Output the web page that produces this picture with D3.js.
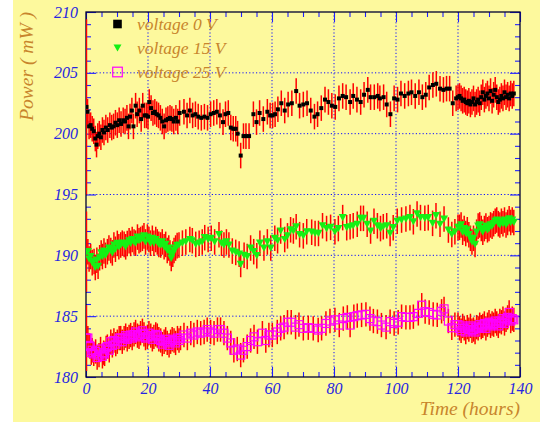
<!DOCTYPE html>
<html>
<head>
<meta charset="utf-8">
<script src="https://cdn.jsdelivr.net/npm/d3@7"></script>
<style>
  body { margin: 0; background: #fff; }
  svg { display: block; }
</style>
</head>
<body>
<svg id="chart" width="540" height="422"></svg>
<script>
// ---- tick labels ----
const hourTicks = [0, 20, 40, 60, 80, 100, 120, 140];
const powerTicks = [180, 185, 190, 195, 200, 205, 210];

// ---- series: [time (hours), power (mW)] ----
const seriesNames = ["voltage 0 V", "voltage 15 V", "voltage 25 V"];

const power0V = [
  [0.15,202.2],[0.5,201.8],[1.0,200.6],[1.5,200.7],[2.0,200.4],[2.5,200.2],[3.0,199.6],[3.4,199.1],[3.8,199.8],
  [4.3,200.0],[4.8,199.7],[5.3,200.3],[5.8,200.1],[6.4,200.5],[7.0,200.3],[7.7,200.7],[8.3,200.5],[8.9,200.6],
  [9.5,200.9],[10.1,200.7],[10.7,201.1],[11.3,200.8],[12.0,201.1],[12.6,201.0],[13.2,201.3],[13.7,200.6],
  [14.2,201.4],[14.8,201.9],[15.3,200.6],[16.0,202.3],[16.5,201.6],[17.2,201.9],[17.8,201.2],[18.3,202.3],
  [18.9,201.5],[19.5,201.5],[20.0,201.4],[20.4,202.6],[21.0,202.1],[21.6,201.7],[22.2,201.8],[22.8,201.6],
  [23.4,201.5],[24.0,201.3],[24.6,201.0],[25.2,200.6],[25.8,201.1],[26.4,201.2],[27.1,201.3],[27.7,201.2],
  [28.3,201.0],[29.0,201.3],[29.6,201.0],[30.2,201.7],
  [31.6,201.8],[32.6,201.5],[33.5,201.9],[34.4,201.5],[35.3,201.6],[36.2,201.4],[37.2,201.3],[38.2,201.4],
  [39.2,201.3],[40.2,201.6],[41.2,201.7],[42.2,201.8],[43.2,201.5],[44.2,200.95],[45.0,201.6],[45.9,201.7],
  [46.7,200.5],[47.5,200.4],[48.3,200.4],[48.9,200.0],[49.9,198.2],[50.8,199.8],[51.6,199.8],[52.6,199.8],
  [54.0,201.6],[55.0,200.95],[56.0,201.7],[57.2,201.2],[58.5,201.8],[59.4,201.5],[60.2,201.5],[61.0,201.6],
  [61.9,202.0],[63.0,202.5],[64.1,201.9],[65.2,202.4],[66.4,202.5],[67.8,203.5],[68.9,202.3],[70.1,202.4],
  [71.3,202.5],[72.5,201.9],[73.7,201.4],[74.7,201.6],[75.9,202.1],[77.1,202.8],[78.2,202.6],[79.3,202.3],
  [80.4,202.2],[81.6,202.9],[82.8,203.1],[83.9,203.0],[85.2,202.6],[86.2,203.1],[87.4,202.8],[88.6,202.6],
  [89.7,203.2],[90.9,203.6],[91.8,203.0],[93.0,203.0],[94.1,203.1],[94.8,202.9],[96.0,203.0],[97.0,202.4],
  [98.2,201.6],[99.4,202.9],[100.5,202.8],[101.6,203.3],[102.8,203.1],[104.0,203.3],[105.0,203.4],[106.2,203.1],
  [107.4,203.4],[108.5,203.0],[109.6,203.2],[110.7,203.8],[111.9,204.0],[113.0,204.1],[114.2,203.7],[115.3,203.6],
  [116.3,203.7],[117.3,203.7],[118.3,202.5],[119.4,202.9],
  [120.0,203.0],[120.5,203.1],[121.0,202.9],[121.5,202.7],[122.0,202.8],[122.5,202.6],[123.0,202.5],[123.5,202.7],
  [124.0,202.4],[124.5,202.6],[125.0,202.9],[125.5,202.4],[126.0,202.6],[126.5,202.8],[127.0,202.5],[127.5,203.0],
  [128.0,203.4],[128.5,202.8],[129.0,203.1],[129.5,203.3],[130.0,202.9],[130.5,203.5],[131.0,202.7],[131.5,203.2],
  [132.0,203.6],[132.5,203.0],[133.0,202.6],[133.5,202.8],[134.0,203.1],[134.5,202.9],[135.0,203.4],[135.5,203.0],
  [136.0,203.2],[136.5,202.9],[137.0,203.3],[137.5,203.1],[138.0,203.3]
];

const power15V = [
  [0.15,190.3],[0.6,190.3],[1.0,189.7],[1.5,189.9],[2.0,189.4],[2.6,189.5],[3.0,189.0],[3.5,189.6],[3.9,189.1],
  [4.4,189.8],[4.9,190.2],[5.3,189.9],[5.8,190.35],[6.3,190.0],[6.9,190.3],[7.4,190.6],[8.0,190.4],[8.5,190.2],
  [9.0,190.85],[9.5,190.5],[10.1,190.98],[10.6,190.7],[11.2,190.85],[11.7,191.0],[12.3,190.9],[12.8,190.7],
  [13.3,190.98],[13.9,191.2],[14.4,190.98],[14.9,191.3],[15.5,191.1],[16.0,191.0],[16.6,191.5],[17.1,191.2],
  [17.6,191.3],[18.2,191.4],[18.7,191.6],[19.2,191.1],[19.8,191.5],[20.3,191.3],[20.8,191.0],[21.4,191.4],
  [21.9,191.0],[22.5,191.3],[23.0,191.1],[23.5,190.9],[24.1,190.85],[24.6,191.1],[25.2,190.7],[25.7,190.9],
  [26.2,190.4],[26.7,190.6],[27.1,190.2],[27.5,189.75],[28.0,190.1],[28.4,190.4],[28.9,190.6],[29.4,190.8],
  [30.0,190.85],
  [31.1,191.0],[32.2,191.1],[33.5,191.3],[34.3,191.2],[35.4,190.9],[36.5,191.0],[37.5,191.1],[38.3,191.45],
  [39.4,191.3],[40.4,191.4],[41.5,191.1],[42.9,191.7],[43.7,191.0],[44.5,190.85],[45.3,191.1],[46.1,190.85],
  [47.2,190.35],[48.3,190.24],[49.4,190.1],[49.9,189.25],[51.0,190.0],[52.0,189.9],[53.1,190.6],[54.1,190.3],
  [55.1,189.97],[56.1,191.0],[57.4,190.6],[58.5,191.1],[59.6,190.6],[60.9,191.4],[61.8,191.2],[62.8,192.0],
  [64.1,191.3],[65.0,191.6],[66.0,192.1],[66.9,192.0],[67.8,192.35],[68.9,191.7],[70.1,191.6],[71.2,191.94],
  [72.8,191.9],[73.9,191.8],[75.0,191.8],[76.3,192.43],[77.6,192.2],[78.9,192.3],[80.3,191.94],[81.4,192.2],
  [82.8,193.1],[84.1,192.27],[85.2,192.35],[86.2,192.43],[87.5,192.55],[88.6,193.04],[89.5,193.04],[90.7,192.55],
  [91.8,192.0],[92.9,192.8],[94.0,192.43],[95.0,192.2],[95.9,192.35],[97.0,192.43],[98.1,191.8],[99.1,192.27],
  [100.4,192.8],[101.8,192.9],[103.2,192.98],[104.5,193.1],[105.6,192.76],[106.8,193.4],[107.9,193.1],[109.3,193.04],
  [110.4,193.1],[111.8,192.63],[112.9,193.26],[114.2,192.55],[115.5,192.98],[116.9,192.08],[118.0,191.72],[119.0,191.94],
  [120.0,192.3],[120.5,192.3],[121.0,192.5],[121.5,191.9],[122.0,192.2],[122.5,191.8],[123.0,192.1],[123.5,191.7],
  [124.0,191.4],[124.5,191.1],[125.0,191.4],[125.5,190.9],[126.0,191.9],[126.5,192.4],[127.0,192.5],[127.5,192.2],
  [128.0,191.9],[128.5,192.2],[129.0,192.4],[129.5,192.1],[130.0,192.2],[130.5,192.5],[131.0,192.4],[131.5,192.6],
  [132.0,192.8],[132.5,192.9],[133.0,192.6],[133.5,192.5],[134.0,192.8],[134.5,192.6],[135.0,192.9],[135.5,192.5],
  [136.0,192.7],[136.5,193.0],[137.0,192.7],[137.5,192.9],[138.0,192.7]
];

const power25V = [
  [0.15,183.2],[0.6,183.2],[1.0,182.6],[1.3,182.5],[1.7,182.0],[2.0,182.2],[2.5,181.9],[3.1,182.1],[3.6,181.6],
  [4.2,181.8],[4.7,182.3],[5.3,181.7],[5.7,182.0],[6.0,181.9],[6.5,182.4],[6.9,182.5],[7.5,182.2],[8.0,182.9],
  [8.5,182.6],[9.0,183.0],[9.6,182.7],[10.1,182.9],[10.7,183.2],[11.2,183.2],[11.7,182.9],[12.3,183.2],
  [12.8,183.4],[13.3,183.1],[13.9,183.3],[14.4,183.45],[14.9,183.2],[15.5,183.5],[16.0,183.7],[16.6,183.4],
  [17.1,183.3],[17.6,183.6],[18.2,183.8],[18.7,183.5],[19.2,183.2],[19.8,183.3],[20.3,183.6],[20.9,183.4],
  [21.4,183.1],[21.9,183.3],[22.5,183.5],[23.0,183.4],[23.5,183.1],[24.1,183.0],[24.6,182.7],[25.2,182.9],
  [25.7,183.1],[26.2,182.8],[26.8,182.6],[27.3,182.9],[27.8,183.1],[28.4,183.0],[28.9,182.8],[29.5,183.2],
  [30.0,183.0],
  [30.5,183.2],[31.6,183.45],[32.7,183.2],[33.8,183.6],[34.8,183.45],[35.9,183.7],[37.0,183.6],[38.1,183.7],
  [39.1,183.9],[40.2,183.7],[41.3,183.6],[42.4,183.9],[43.4,183.9],[44.5,183.6],[45.6,183.2],[46.7,182.8],
  [47.7,182.2],[48.8,182.3],[49.9,181.8],[50.8,182.2],[52.0,182.5],[53.1,183.0],[54.2,183.3],[55.3,182.9],
  [56.9,183.6],[58.0,183.0],[59.0,183.45],[60.1,183.45],[61.7,183.7],[62.8,184.0],[63.9,184.1],[65.0,184.5],
  [66.2,184.5],[67.6,184.1],[68.7,184.3],[70.1,184.0],[71.7,184.05],[73.3,184.0],[74.9,183.86],[76.0,184.0],
  [77.4,184.4],[78.7,184.6],[80.3,184.7],[81.7,184.27],[83.0,184.8],[84.3,184.9],[85.2,184.27],[86.4,184.96],
  [87.5,185.04],[88.9,185.1],[90.3,185.15],[91.6,184.8],[92.7,184.6],[94.0,184.55],[95.3,184.27],[96.8,184.1],
  [98.1,184.55],[99.4,184.4],[100.7,184.5],[101.8,184.96],[103.2,184.9],[104.5,184.9],[105.6,184.96],[107.2,185.23],
  [108.3,185.9],[109.4,185.37],[110.7,185.3],[112.0,185.15],[113.3,185.1],[114.7,185.4],[115.5,185.6],[116.9,184.6],
  [118.0,184.05],[119.0,184.3],
  [120.0,184.3],[120.5,184.0],[121.0,183.8],[121.5,184.2],[122.0,184.0],[122.5,183.7],[123.0,184.1],[123.5,183.9],
  [124.0,184.2],[124.5,183.8],[125.0,183.9],[125.5,183.7],[126.0,184.1],[126.5,184.0],[127.0,184.3],[127.5,184.1],
  [128.0,184.2],[128.5,184.4],[129.0,184.0],[129.5,184.3],[130.0,184.5],[130.5,184.2],[131.0,184.4],[131.5,184.3],
  [132.0,184.6],[132.5,184.4],[133.0,184.2],[133.5,184.6],[134.0,184.5],[134.5,184.8],[135.0,184.4],[135.5,184.7],
  [136.0,184.9],[136.5,185.3],[137.0,184.6],[137.5,184.8],[138.0,184.7]
];

// uncertainty of the first reading of each run, and of every later reading (mW)
const firstErr = [7.2, 3.3, 2.7];
const pointErr = [1.05, 1.05, 1.0];

// ---- layout & styles ----
const W = 540, H = 422;
const L = 86, R = 520, T = 12, B = 377;
const PAD = "#fdf99d";
const AXIS_BLUE = "#2626e0";
const TITLE = "#c8852c";
const SERIF = "'Liberation Serif', 'Times New Roman', serif";

const svg = d3.select("#chart");
svg.append("rect").attr("width", W).attr("height", H).attr("fill", "#fff");
svg.append("rect").attr("x", 13).attr("width", W - 13).attr("height", H).attr("fill", PAD);

const x = d3.scaleLinear().domain([0, 140]).range([L, R]);
const y = d3.scaleLinear().domain([180, 210]).range([B, T]);

// dotted grid at the labelled positions
const grid = svg.append("g")
  .attr("stroke", "#1010ff").attr("stroke-width", 1).attr("stroke-dasharray", "1.2,2.2");
grid.selectAll(".gx").data(hourTicks.slice(1, -1)).join("line")
  .attr("x1", d => x(d)).attr("x2", d => x(d)).attr("y1", T).attr("y2", B);
grid.selectAll(".gy").data(powerTicks.slice(1, -1)).join("line")
  .attr("y1", d => y(d)).attr("y2", d => y(d)).attr("x1", L).attr("x2", R);

// axes: major ticks (labelled on bottom / left) and minor ticks, all pointing inward
const minorHours = d3.range(0, 141, 5).filter(v => v % 20 !== 0);
const minorPower = d3.range(180, 211, 1).filter(v => v % 5 !== 0);

function addAxis(gen, transform, values, size, labelled, padding) {
  const g = svg.append("g").attr("transform", transform)
    .call(gen.tickValues(values).tickSize(size).tickSizeOuter(0).tickPadding(padding || 3)
      .tickFormat(labelled ? d3.format("d") : () => ""));
  g.select(".domain").remove();
  g.selectAll(".tick line").attr("stroke", "#2020ff").attr("stroke-width", 1.1);
  g.attr("font-family", SERIF).attr("font-size", 16).attr("font-style", "italic")
    .style("color", AXIS_BLUE);
  return g;
}
addAxis(d3.axisBottom(x), `translate(0,${B})`, hourTicks, -10, true, 6);
addAxis(d3.axisBottom(x), `translate(0,${B})`, minorHours, -5, false);
addAxis(d3.axisTop(x), `translate(0,${T})`, hourTicks, -10, false);
addAxis(d3.axisTop(x), `translate(0,${T})`, minorHours, -5, false);
addAxis(d3.axisLeft(y), `translate(${L},0)`, powerTicks, -10, true, 8);
addAxis(d3.axisLeft(y), `translate(${L},0)`, minorPower, -5, false);
addAxis(d3.axisRight(y), `translate(${R},0)`, powerTicks, -10, false);
addAxis(d3.axisRight(y), `translate(${R},0)`, minorPower, -5, false);

// frame
svg.append("rect").attr("x", L).attr("y", T).attr("width", R - L).attr("height", B - T)
  .attr("fill", "none").attr("stroke", "#000030").attr("stroke-width", 1.3);

// data, clipped to the frame
svg.append("clipPath").attr("id", "frameClip")
  .append("rect").attr("x", L).attr("y", T).attr("width", R - L).attr("height", B - T);
const plot = svg.append("g").attr("clip-path", "url(#frameClip)");

const triDown = "M-4,-3.6L4,-3.6L0,3.6Z";
const markers = [
  g => g.append("rect").attr("x", -2).attr("y", -2).attr("width", 4).attr("height", 4).attr("fill", "#000"),
  g => g.append("path").attr("d", triDown).attr("fill", "#14f014"),
  g => g.append("rect").attr("x", -4).attr("y", -4).attr("width", 8).attr("height", 8)
        .attr("fill", "none").attr("stroke", "#ff00ff").attr("stroke-width", 1.2)
];

[power0V, power15V, power25V].forEach((pts, s) => {
  const layer = plot.append("g");
  const err = (d, i) => i === 0 ? firstErr[s] : pointErr[s];
  layer.append("g").selectAll("line").data(pts).join("line")
    .attr("x1", d => x(d[0])).attr("x2", d => x(d[0]))
    .attr("y1", (d, i) => y(d[1] - err(d, i))).attr("y2", (d, i) => y(d[1] + err(d, i)))
    .attr("stroke", "#ff0000").attr("stroke-width", 1.5);
  layer.append("g").selectAll("g").data(pts).join("g")
    .attr("transform", d => `translate(${x(d[0])},${y(d[1])})`)
    .each(function () { markers[s](d3.select(this)); });
});

// legend
const legendMarks = [
  g => g.append("rect").attr("x", -4.3).attr("y", -4.3).attr("width", 8.6).attr("height", 8.6).attr("fill", "#000"),
  g => g.append("path").attr("d", triDown).attr("fill", "#14f014"),
  g => g.append("rect").attr("x", -4.8).attr("y", -4.8).attr("width", 9.6).attr("height", 9.6)
        .attr("fill", "none").attr("stroke", "#ff00ff").attr("stroke-width", 1.2)
];
const legend = svg.append("g");
seriesNames.forEach((name, i) => {
  const row = legend.append("g").attr("transform", `translate(0,${24 + i * 24})`);
  legendMarks[i](row.append("g").attr("transform", "translate(117.5,0)"));
  row.append("text").attr("x", 137).attr("y", 5.5).text(name)
    .attr("font-family", SERIF).attr("font-style", "italic").attr("font-size", 17.5)
    .attr("fill", TITLE);
});

// axis titles
svg.append("text").text("Time (hours)")
  .attr("x", R).attr("y", 415).attr("text-anchor", "end")
  .attr("font-family", SERIF).attr("font-style", "italic").attr("font-size", 19.5).attr("fill", TITLE);
svg.append("text").text("Power ( mW )")
  .attr("transform", `translate(33,${T}) rotate(-90)`).attr("text-anchor", "end")
  .attr("font-family", SERIF).attr("font-style", "italic").attr("font-size", 19.5).attr("fill", TITLE);
</script>
</body>
</html>
